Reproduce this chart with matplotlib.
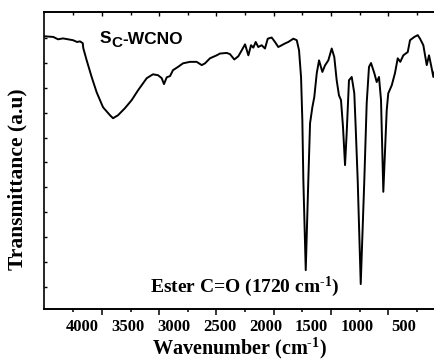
import matplotlib
matplotlib.use("Agg")
import matplotlib.pyplot as plt

plt.rcParams['mathtext.fontset'] = 'custom'
plt.rcParams['mathtext.rm'] = 'Liberation Serif:bold'
plt.rcParams['mathtext.bf'] = 'Liberation Serif:bold'
plt.rcParams['mathtext.it'] = 'Liberation Serif:bold:italic'

# Spectrum (wavenumber cm^-1, transmittance a.u.)
wavenumber = [4403, 4313, 4261, 4207, 4152, 4098, 4054, 4022, 3992, 3986,
              3949, 3894, 3840, 3771, 3695, 3662, 3608, 3532, 3459, 3390,
              3295, 3227, 3172, 3132, 3107, 3077, 3041, 3009, 2954, 2900,
              2824, 2751, 2696, 2660, 2606, 2533, 2497, 2424, 2388, 2341,
              2297, 2260, 2224, 2188, 2159, 2134, 2108, 2080, 2043, 2007,
              1977, 1934, 1898, 1862, 1825, 1789, 1753, 1698, 1661, 1636,
              1614, 1600, 1589, 1563, 1535, 1516, 1491, 1470, 1443, 1418,
              1382, 1353, 1317, 1280, 1252, 1226, 1201, 1179, 1157, 1135,
              1117, 1092, 1062, 1034, 1019, 997, 964, 925, 899, 874,
              852, 816, 790, 765, 743, 718, 681, 664, 626, 591,
              561, 533, 500, 452, 427, 380, 343, 318, 282, 245,
              220, 191, 173, 155]
transmittance = [91.9, 91.7, 90.9, 91.2, 90.9, 90.6, 90.0, 90.2, 89.6, 87.9,
                 83.8, 78.1, 73.0, 68.0, 65.3, 64.3, 65.3, 67.7, 70.4, 73.7,
                 77.8, 79.1, 78.8, 77.8, 75.8, 78.1, 78.5, 80.5, 81.6, 82.8,
                 83.3, 83.3, 82.2, 82.8, 84.5, 85.5, 86.1, 86.3, 85.9, 84.1,
                 85.2, 87.2, 89.2, 85.5, 88.9, 88.1, 90.0, 88.3, 88.9, 87.8,
                 91.1, 91.5, 90.0, 88.3, 88.9, 89.5, 90.0, 91.1, 90.6, 87.2,
                 78.1, 63.6, 43.4, 13.1, 43.4, 62.6, 68.0, 71.4, 79.5, 83.8,
                 79.9, 82.1, 83.8, 87.8, 84.9, 77.1, 72.0, 70.4, 61.3, 48.5,
                 59.3, 77.1, 78.2, 72.7, 61.3, 43.4, 8.4, 43.4, 69.4, 81.6,
                 82.9, 79.5, 76.5, 78.2, 70.4, 39.5, 67.0, 72.7, 75.4, 79.5,
                 84.5, 83.3, 85.5, 86.6, 90.6, 91.7, 92.3, 91.1, 88.9, 82.2,
                 85.5, 81.1, 78.2, 80.5]

tick_labels = ["4000", "3500", "3000", "2500", "2000", "1500", "1000", "500"]
tick_label_pos = [4000, 3500, 3000, 2500, 2000, 1500, 1000, 500]
tickmark_major = [3783, 3160, 2536, 1913, 1289, 666]
tickmark_minor = [4095, 3471, 2848, 2224, 1601, 977, 354]

W, H = 435, 362
fig = plt.figure(figsize=(W / 100, H / 100), dpi=100)
left, right, top, bottom = 44, 435, 12.3, 309
ax = fig.add_axes([left / W, 1 - bottom / H, (right - left) / W, (bottom - top) / H])

ax.plot(wavenumber, transmittance, color='black', lw=1.4)
ax.set_xlim(4414, 155)
ax.set_ylim(0, 100)

for s in ax.spines.values():
    s.set_linewidth(1.2)
ax.spines['right'].set_visible(False)

tickfont = dict(family='Liberation Serif', weight='bold', size=12)
ax.set_xticks(tick_label_pos)
ax.set_xticklabels(tick_labels, fontdict=tickfont)
ax.tick_params(axis='x', which='major', length=0, pad=7)
ax.set_yticks([7.4, 15.8, 24.2, 32.6, 41, 49.4, 57.8, 66.2, 74.6, 83, 91.4])
ax.set_yticklabels([])
ax.tick_params(axis='y', direction='in', length=2.5, width=1)

secb = ax.secondary_xaxis('bottom')
secb.set_xticks(tickmark_major)
secb.set_xticks(tickmark_minor, minor=True)
secb.tick_params(which='major', direction='out', length=4.5, width=1.1, labelbottom=False)
secb.tick_params(which='minor', direction='out', length=2.5, width=1.1)
secb.spines['bottom'].set_linewidth(1.2)

sect = ax.secondary_xaxis('top')
sect.set_xticks(tickmark_major)
sect.set_xticks(tickmark_minor, minor=True)
sect.tick_params(which='major', direction='in', length=3, width=1, labeltop=False)
sect.tick_params(which='minor', direction='in', length=2, width=1)
sect.spines['top'].set_linewidth(1.2)

ax.set_xlabel(r'Wavenumber (cm$^{\text{-1}}$)', family='Liberation Serif',
              weight='bold', size=14.5, labelpad=1)
ax.set_ylabel('Transmittance (a.u)', family='Liberation Serif', weight='bold', size=15.5)
ax.yaxis.set_label_coords(-0.041, 0.438)

t1 = ax.text(3804, 91.2, 'S', family='Liberation Sans', weight='bold', size=12.5,
             ha='left', va='center')
t2 = ax.annotate('C', xy=(1.0, 0.0), xycoords=t1, xytext=(0, -3), textcoords='offset points',
                 family='Liberation Sans', weight='bold', size=11, ha='left', va='bottom')
ax.annotate('-WCNO', xy=(1.0, 3 / 15), xycoords=t2, family='Liberation Sans', weight='bold',
            size=12.5, ha='left', va='bottom')

ax.text(3259, 7.4, r'Ester C=O (1720 cm$^{\text{-1}}$)', family='Liberation Serif',
        weight='bold', size=14, ha='left', va='center')

fig.savefig('out.png', dpi=100)
